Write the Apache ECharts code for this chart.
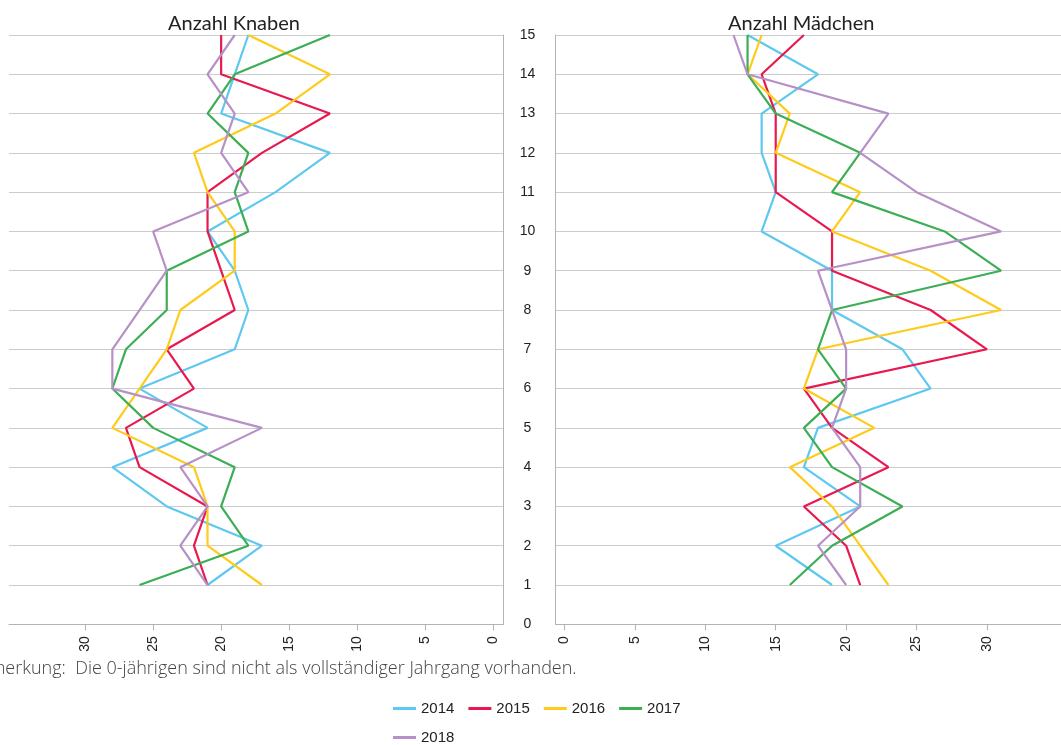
<!DOCTYPE html>
<html>
<head>
<meta charset="utf-8">
<script src="https://cdn.jsdelivr.net/npm/echarts@6/dist/echarts.min.js"></script>
<style>
html,body{margin:0;padding:0;background:#fff;}
#c{width:1061px;height:745px;}
</style>
</head>
<body>
<div id="c"></div>
<script>
// Ages (y axis), 1..15
const ages = [1,2,3,4,5,6,7,8,9,10,11,12,13,14,15];
const years = ['2014','2015','2016','2017','2018'];
const xTicks = [0,5,10,15,20,25,30];

// Anzahl Knaben, by age 1..15
const knaben2014 = [21,17,24,28,21,26,19,18,19,21,16,12,20,19,18];
const knaben2015 = [21,22,21,26,27,22,24,19,20,21,21,17,12,20,20];
const knaben2016 = [17,21,21,22,28,26,24,23,19,19,21,22,16,12,18];
const knaben2017 = [26,18,20,19,25,28,27,24,24,18,19,18,21,19,12];
const knaben2018 = [21,23,21,23,17,28,28,26,24,25,18,20,19,21,19];

// Anzahl Mädchen, by age 1..15
const maedchen2014 = [19,15,21,17,18,26,24,19,19,14,15,14,14,18,13];
const maedchen2015 = [21,20,17,23,19,17,30,26,19,19,15,15,15,14,17];
const maedchen2016 = [23,21,19,16,22,17,18,31,26,19,21,15,16,13,14];
const maedchen2017 = [16,19,24,19,17,20,18,19,31,27,19,21,15,13,13];
const maedchen2018 = [20,18,21,21,19,20,20,19,18,31,25,21,23,13,12];

const colors = ['#5ec8f0','#e8194f','#ffcb1a','#3cae55','#b690c6'];
const knaben = [knaben2014,knaben2015,knaben2016,knaben2017,knaben2018];
const maedchen = [maedchen2014,maedchen2015,maedchen2016,maedchen2017,maedchen2018];

const gridCol = '#cccccc';
const axisCol = '#b3b3b3';
const labelFont = {fontFamily:'Liberation Sans', fontSize:14, color:'#222'};

function mkX(gridIndex, inverse, min, max){
  return {
    type:'value', gridIndex, inverse, min, max,
    axisLine:{show:true, onZero:false, lineStyle:{color:axisCol, width:1}},
    axisTick:{show:true, length:6, customValues:xTicks, lineStyle:{color:axisCol}},
    axisLabel:Object.assign({show:true, rotate:90, margin:12, customValues:xTicks}, labelFont),
    splitLine:{show:false}
  };
}
function mkY(gridIndex, position, showLabels){
  return {
    type:'value', gridIndex, position, min:0, max:15, interval:1,
    axisLine:{show:true, onZero:false, lineStyle:{color:axisCol, width:1}},
    axisTick:{show:false},
    axisLabel:Object.assign({show:showLabels, margin:28, align:'center'}, labelFont),
    splitLine:{show:true, lineStyle:{color:gridCol, width:1}}
  };
}

const series = [];
years.forEach((y,i)=>{
  series.push({
    name:y, type:'line', xAxisIndex:0, yAxisIndex:0,
    data: ages.map((a,k)=>[knaben[i][k], a]),
    showSymbol:false, symbol:'none', animation:false,
    lineStyle:{color:colors[i], width:2.2}, itemStyle:{color:colors[i]}
  });
  series.push({
    name:y, type:'line', xAxisIndex:1, yAxisIndex:1,
    data: ages.map((a,k)=>[maedchen[i][k], a]),
    showSymbol:false, symbol:'none', animation:false,
    lineStyle:{color:colors[i], width:2.2}, itemStyle:{color:colors[i]}
  });
});

const legendBase = {
  orient:'horizontal', left:388, itemWidth:23, itemHeight:3, itemGap:14,
  icon:'rect', selectedMode:false,
  textStyle:{fontFamily:'Liberation Sans', fontSize:15, color:'#222'}
};

const chart = echarts.init(document.getElementById('c'), null, {renderer:'canvas'});
chart.setOption({
  animation:false,
  backgroundColor:'#fff',
  grid:[
    {left:9, right:1061-503.3, top:35, bottom:745-624.3},
    {left:555.5, right:0, top:35, bottom:745-624.3}
  ],
  xAxis:[ mkX(0, true, -0.75, 35.6), mkX(1, false, -0.64, 35.26) ],
  yAxis:[ mkY(0, 'right', false), mkY(1, 'left', true) ],
  legend:[
    Object.assign({data:['2014','2015','2016','2017'], top:696}, legendBase),
    Object.assign({data:['2018'], top:725}, legendBase)
  ],
  graphic:[
    {type:'text', left:168, top:14, style:{text:'Anzahl Knaben', fontFamily:'Lato', fontSize:20, fill:'#222'}},
    {type:'text', left:728, top:14, style:{text:'Anzahl Mädchen', fontFamily:'Lato', fontSize:20, fill:'#222'}},
    {type:'text', left:-32, top:660, style:{text:'Anmerkung:  Die 0-jährigen sind nicht als vollständiger Jahrgang vorhanden.', fontFamily:'Open Sans', fontWeight:300, fontSize:18, fill:'#444'}}
  ],
  series
});
</script>
</body>
</html>
